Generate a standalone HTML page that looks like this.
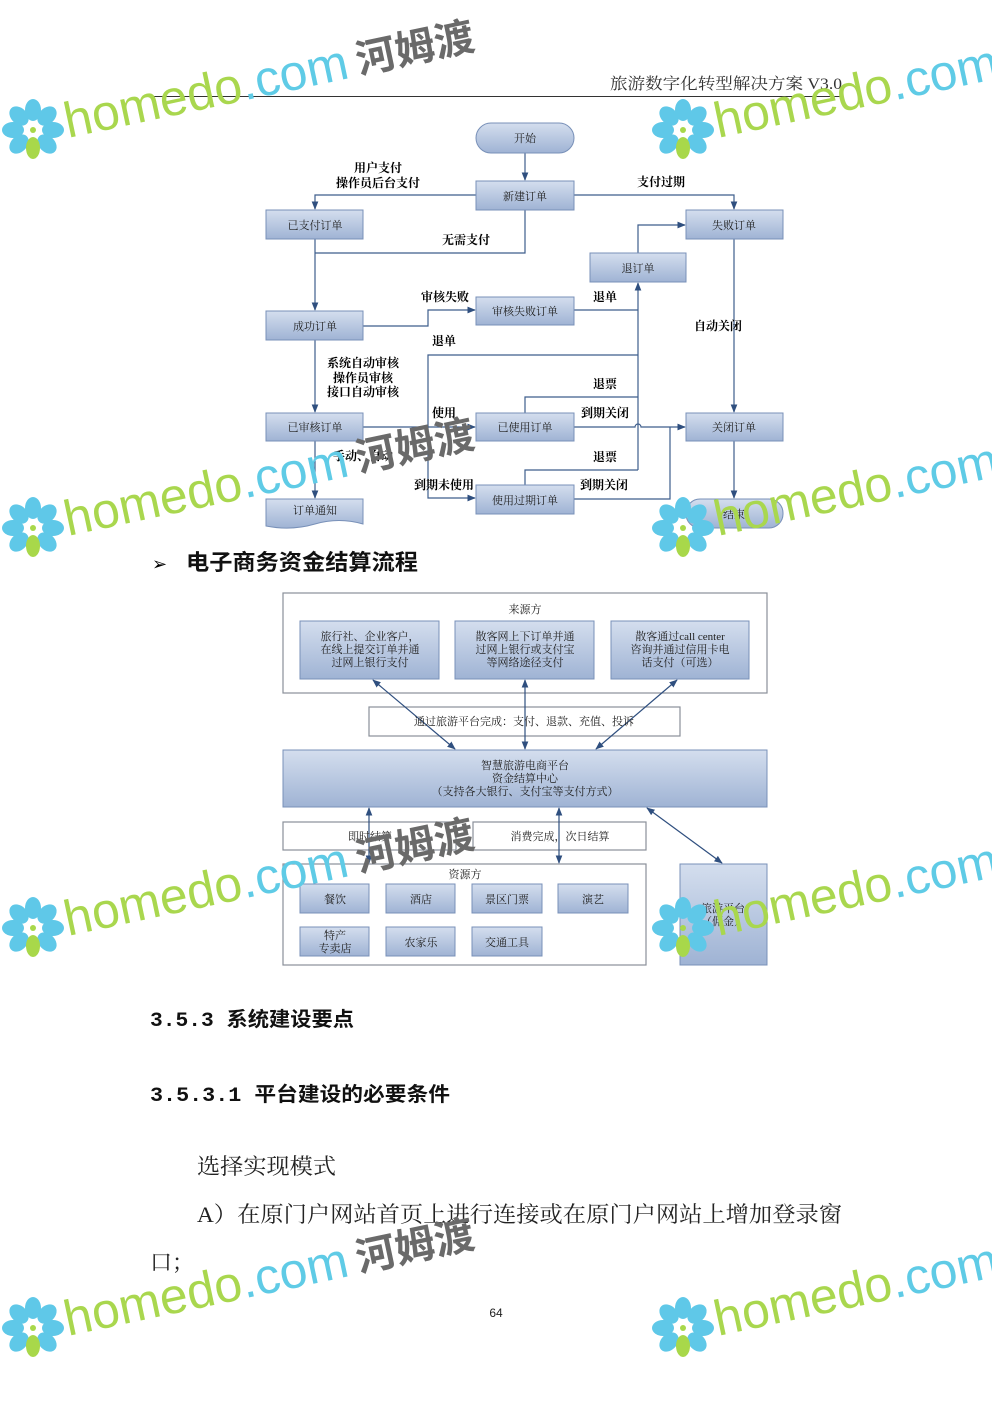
<!DOCTYPE html>
<html><head><meta charset="utf-8">
<style>
html,body{margin:0;padding:0;background:#fff}
svg{display:block}
text{font-family:"Liberation Serif","Noto Serif CJK SC","Noto Sans CJK SC",serif}
.b{font-family:"Liberation Sans","Noto Sans CJK SC",sans-serif;font-weight:bold;font-size:12px;fill:#000}
.n{font-size:11px;fill:#222}
</style></head><body>
<svg width="992" height="1403" viewBox="0 0 992 1403" xmlns="http://www.w3.org/2000/svg">
<defs>
<linearGradient id="g" x1="0" y1="0" x2="0" y2="1"><stop offset="0" stop-color="#d4deee"/><stop offset="1" stop-color="#9fb3d4"/></linearGradient>
<marker id="a" viewBox="0 0 10 10" refX="9" refY="5" markerWidth="7" markerHeight="7" orient="auto-start-reverse"><path d="M0,1L10,5L0,9z" fill="#2f4f7f"/></marker>
<g id="wm">
 <g transform="translate(33,130)">
  <g fill="#5fc8e8">
   <ellipse cx="0" cy="-20" rx="8" ry="11"/><ellipse cx="14" cy="-14" rx="8" ry="11" transform="rotate(45 14 -14)"/>
   <ellipse cx="20" cy="0" rx="11" ry="8"/><ellipse cx="14" cy="14" rx="8" ry="11" transform="rotate(-45 14 14)"/>
   <ellipse cx="-14" cy="14" rx="8" ry="11" transform="rotate(45 -14 14)"/>
   <ellipse cx="-20" cy="0" rx="11" ry="8"/><ellipse cx="-14" cy="-14" rx="8" ry="11" transform="rotate(-45 -14 -14)"/>
  </g>
  <ellipse cx="0" cy="18" rx="7" ry="11" fill="#a8d84a"/>
  <circle cx="0" cy="0" r="3" fill="#a8d84a"/>
 </g>
 <g transform="translate(68,138) rotate(-12)">
  <text x="0" y="0" style="font-family:'Liberation Sans',sans-serif;font-size:50px" fill="#a9d74e">homedo<tspan fill="#5fcbe6">.com</tspan></text>
  <text x="298" y="-2" style="font-family:'Noto Sans CJK SC',sans-serif;font-size:40px;font-weight:bold" fill="#6a6a6a">河姆渡</text>
 </g>
</g>
</defs>

<!-- header -->
<text x="610" y="89" textLength="232" lengthAdjust="spacingAndGlyphs" style="font-size:16px" fill="#333">旅游数字化转型解决方案 V3.0</text>
<line x1="150" y1="96.5" x2="842" y2="96.5" stroke="#333" stroke-width="1"/>

<!-- Flowchart connectors -->
<g stroke="#3e5e8c" stroke-width="1.2" fill="none">
 <line x1="525" y1="153" x2="525" y2="180" marker-end="url(#a)"/>
 <polyline points="476,195 315,195 315,209" marker-end="url(#a)"/>
 <polyline points="574,195 734,195 734,209" marker-end="url(#a)"/>
 <polyline points="525,210 525,253 315,253"/>
 <line x1="315" y1="239" x2="315" y2="310" marker-end="url(#a)"/>
 <polyline points="363,326 428,326 428,310 475,310" marker-end="url(#a)"/>
 <polyline points="574,310 638,310"/>
 <line x1="638" y1="470" x2="638" y2="283" marker-end="url(#a)"/>
 <polyline points="638,253 638,225 685,225" marker-end="url(#a)"/>
 <line x1="734" y1="239" x2="734" y2="412" marker-end="url(#a)"/>
 <line x1="734" y1="441" x2="734" y2="498" marker-end="url(#a)"/>
 <line x1="315" y1="340" x2="315" y2="412" marker-end="url(#a)"/>
 <line x1="315" y1="441" x2="315" y2="498" marker-end="url(#a)"/>
 <line x1="363" y1="427" x2="475" y2="427" marker-end="url(#a)"/>
 <polyline points="638,355 428,355 428,498 475,498" marker-end="url(#a)"/>
 <polyline points="525,413 525,397 638,397"/>
 <polyline points="525,485 525,470 638,470"/>
 <path d="M574,427 H635 a3,3 0 0 1 6,0 H685" marker-end="url(#a)"/>
 <polyline points="574,499 670,499 670,427"/>
</g>

<!-- Flowchart nodes -->
<g stroke="#7890b8" stroke-width="1" fill="url(#g)">
 <rect x="476" y="123" width="98" height="30" rx="15"/>
 <rect x="476" y="181" width="98" height="29"/>
 <rect x="266" y="210" width="97" height="29"/>
 <rect x="686" y="210" width="97" height="29"/>
 <rect x="590" y="253" width="96" height="29"/>
 <rect x="476" y="297" width="98" height="28"/>
 <rect x="266" y="311" width="97" height="29"/>
 <rect x="266" y="413" width="97" height="28"/>
 <rect x="476" y="413" width="98" height="28"/>
 <rect x="686" y="413" width="97" height="28"/>
 <rect x="476" y="485" width="98" height="29"/>
 <path d="M266,499 H363 V524 Q339,517 315,524 T266,526 Z"/>
 <rect x="686" y="499" width="97" height="29" rx="14"/>
</g>
<g class="n" text-anchor="middle">
 <text x="525" y="142">开始</text>
 <text x="525" y="200">新建订单</text>
 <text x="315" y="229">已支付订单</text>
 <text x="734" y="229">失败订单</text>
 <text x="638" y="272">退订单</text>
 <text x="525" y="315">审核失败订单</text>
 <text x="315" y="330">成功订单</text>
 <text x="315" y="431">已审核订单</text>
 <text x="525" y="431">已使用订单</text>
 <text x="734" y="431">关闭订单</text>
 <text x="525" y="504">使用过期订单</text>
 <text x="315" y="514">订单通知</text>
 <text x="734" y="518">结束</text>
</g>
<g class="b" text-anchor="middle">
 <text x="378" y="172">用户支付</text>
 <text x="378" y="187">操作员后台支付</text>
 <text x="661" y="186">支付过期</text>
 <text x="466" y="244">无需支付</text>
 <text x="445" y="301">审核失败</text>
 <text x="605" y="301">退单</text>
 <text x="444" y="345">退单</text>
 <text x="718" y="330">自动关闭</text>
 <text x="363" y="367">系统自动审核</text>
 <text x="363" y="382">操作员审核</text>
 <text x="363" y="396">接口自动审核</text>
 <text x="605" y="388">退票</text>
 <text x="444" y="417">使用</text>
 <text x="605" y="417">到期关闭</text>
 <text x="363" y="460">手动、自动</text>
 <text x="605" y="461">退票</text>
 <text x="444" y="489">到期未使用</text>
 <text x="604" y="489">到期关闭</text>
</g>

<!-- bullet heading -->
<text x="152" y="570" style="font-size:18px" fill="#000">➢</text>
<text x="186" y="570" textLength="232" lengthAdjust="spacingAndGlyphs" style="font-family:'Liberation Sans','Noto Sans CJK SC',sans-serif;font-size:22px;font-weight:bold" fill="#111">电子商务资金结算流程</text>

<!-- Settlement diagram -->
<g stroke="#8a8f99" stroke-width="1.2" fill="#fff">
 <rect x="283" y="593" width="484" height="100"/>
 <rect x="369" y="707" width="311" height="29"/>
 <rect x="283" y="822" width="173" height="28"/>
 <rect x="473" y="822" width="173" height="28"/>
 <rect x="283" y="864" width="363" height="101"/>
</g>
<g stroke="#7890b8" stroke-width="1" fill="url(#g)">
 <rect x="300" y="621" width="139" height="58"/>
 <rect x="455" y="621" width="139" height="58"/>
 <rect x="611" y="621" width="138" height="58"/>
 <rect x="283" y="750" width="484" height="57"/>
 <rect x="300" y="884" width="69" height="29"/>
 <rect x="386" y="884" width="69" height="29"/>
 <rect x="472" y="884" width="70" height="29"/>
 <rect x="558" y="884" width="70" height="29"/>
 <rect x="300" y="927" width="69" height="29"/>
 <rect x="386" y="927" width="69" height="29"/>
 <rect x="472" y="927" width="70" height="29"/>
 <rect x="680" y="864" width="87" height="101"/>
</g>
<g stroke="#2f4f7f" stroke-width="1.2">
 <line x1="373" y1="680" x2="455" y2="749" marker-start="url(#a)" marker-end="url(#a)"/>
 <line x1="525" y1="680" x2="525" y2="749" marker-start="url(#a)" marker-end="url(#a)"/>
 <line x1="677" y1="680" x2="596" y2="749" marker-start="url(#a)" marker-end="url(#a)"/>
 <line x1="369" y1="808" x2="369" y2="863" marker-start="url(#a)" marker-end="url(#a)"/>
 <line x1="559" y1="808" x2="559" y2="863" marker-start="url(#a)" marker-end="url(#a)"/>
 <line x1="647" y1="808" x2="722" y2="863" marker-start="url(#a)" marker-end="url(#a)"/>
</g>
<g class="n" text-anchor="middle">
 <text x="525" y="613">来源方</text>
 <text x="370" y="640">旅行社、企业客户，</text>
 <text x="370" y="653">在线上提交订单并通</text>
 <text x="370" y="666">过网上银行支付</text>
 <text x="525" y="640">散客网上下订单并通</text>
 <text x="525" y="653">过网上银行或支付宝</text>
 <text x="525" y="666">等网络途径支付</text>
 <text x="680" y="640">散客通过call center</text>
 <text x="680" y="653">咨询并通过信用卡电</text>
 <text x="680" y="666">话支付（可选）</text>
 <text x="524" y="725">通过旅游平台完成：支付、退款、充值、投诉</text>
 <text x="525" y="769">智慧旅游电商平台</text>
 <text x="525" y="782">资金结算中心</text>
 <text x="525" y="795">（支持各大银行、支付宝等支付方式）</text>
 <text x="370" y="840">即时结算</text>
 <text x="560" y="840">消费完成，次日结算</text>
 <text x="465" y="878">资源方</text>
 <text x="335" y="903">餐饮</text>
 <text x="421" y="903">酒店</text>
 <text x="507" y="903">景区门票</text>
 <text x="593" y="903">演艺</text>
 <text x="335" y="939">特产</text>
 <text x="335" y="952">专卖店</text>
 <text x="421" y="946">农家乐</text>
 <text x="507" y="946">交通工具</text>
 <text x="723" y="912">旅游平台</text>
 <text x="723" y="925">（佣金）</text>
</g>

<!-- body text -->
<text x="150" y="1026" textLength="204" lengthAdjust="spacingAndGlyphs" style="font-family:'Liberation Mono','Noto Sans CJK SC',monospace;font-size:20px;font-weight:bold" fill="#111">3.5.3 系统建设要点</text>
<text x="150" y="1101" textLength="300" lengthAdjust="spacingAndGlyphs" style="font-family:'Liberation Mono','Noto Sans CJK SC',monospace;font-size:20px;font-weight:bold" fill="#111">3.5.3.1 平台建设的必要条件</text>
<text x="197" y="1174" textLength="139" lengthAdjust="spacingAndGlyphs" style="font-size:22px" fill="#222">选择实现模式</text>
<text x="197" y="1222" textLength="645" lengthAdjust="spacingAndGlyphs" style="font-size:22px" fill="#222">A）在原门户网站首页上进行连接或在原门户网站上增加登录窗</text>
<text x="150" y="1270" style="font-size:22px" fill="#222">口；</text>
<text x="496" y="1317" text-anchor="middle" style="font-family:'Liberation Sans',sans-serif;font-size:12px" fill="#222">64</text>

<!-- watermarks -->
<use href="#wm" x="0" y="0"/>
<use href="#wm" x="650" y="0"/>
<use href="#wm" x="0" y="398"/>
<use href="#wm" x="650" y="398"/>
<use href="#wm" x="0" y="798"/>
<use href="#wm" x="650" y="798"/>
<use href="#wm" x="0" y="1198"/>
<use href="#wm" x="650" y="1198"/>
</svg>
</body></html>
